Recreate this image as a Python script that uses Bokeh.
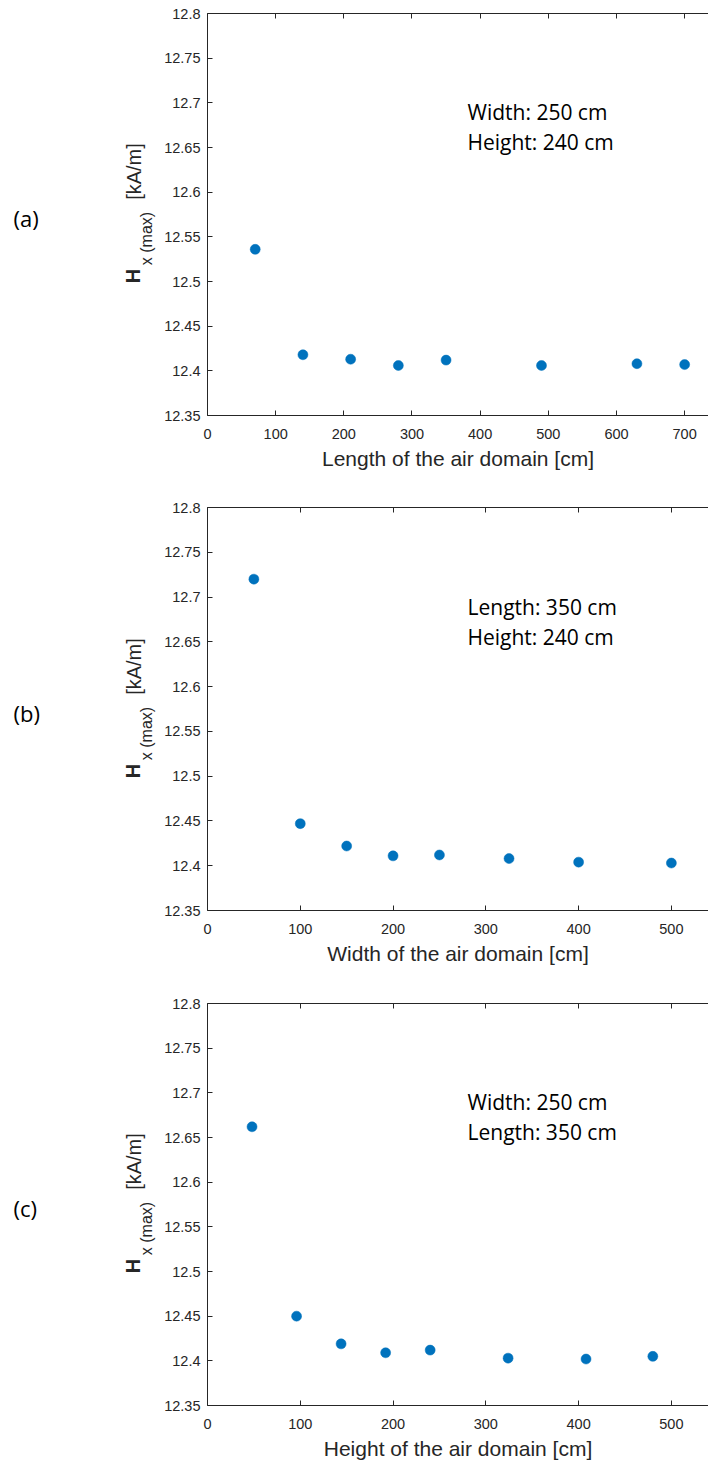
import math
from bokeh.plotting import figure
from bokeh.models import Range1d, FixedTicker, LinearAxis, CustomJSTickFormatter, Label
from bokeh.layouts import column, row
from bokeh.core.properties import value
from bokeh.embed import file_html
from bokeh.resources import INLINE

# ---- data ----
length_cm = [70, 140, 210, 280, 350, 490, 630, 700]
length_hx = [12.536, 12.418, 12.413, 12.406, 12.412, 12.406, 12.408, 12.407]

width_cm = [50, 100, 150, 200, 250, 325, 400, 500]
width_hx = [12.720, 12.447, 12.422, 12.411, 12.412, 12.408, 12.404, 12.403]

height_cm = [48, 96, 144, 192, 240, 324, 408, 480]
height_hx = [12.662, 12.450, 12.419, 12.409, 12.412, 12.403, 12.402, 12.405]

y_ticks = [12.35, 12.40, 12.45, 12.50, 12.55, 12.60, 12.65, 12.70, 12.75, 12.80]
x_ticks_a = [0, 100, 200, 300, 400, 500, 600, 700]
x_ticks_bc = [0, 100, 200, 300, 400, 500]

x_labels = ["Length of the air domain [cm]",
            "Width of the air domain [cm]",
            "Height of the air domain [cm]"]
notes = [["Width: 250 cm", "Height: 240 cm"],
         ["Length: 350 cm", "Height: 240 cm"],
         ["Width: 250 cm", "Length: 350 cm"]]
letters = ["(a)", "(b)", "(c)"]
y_label_parts = ["H", "x (max)", "[kA/m]"]

AX = "#262626"
DOT = "#0072BD"
TICK_FONT = "Liberation Sans"
NOTE_FONT = "Open Sans"

SIDE_W = 159      # width of the left strip holding letter + y label
MAIN_W = 708 - SIDE_W
BORDER_L = 207 - SIDE_W   # main figure left border (tick labels)


def side(height, top_b, bot_b, letter):
    fh = height - top_b - bot_b   # frame height in px; y measured up from frame bottom
    s = figure(width=SIDE_W, height=height, x_range=Range1d(0, SIDE_W),
               y_range=Range1d(0, fh), x_axis_type=None, y_axis_type=None,
               title=None, output_backend="svg", toolbar_location=None,
               min_border_left=0, min_border_right=0,
               min_border_top=top_b, min_border_bottom=bot_b)
    s.grid.visible = False
    s.outline_line_color = None
    s.background_fill_color = "white"
    s.border_fill_color = "white"
    rot = math.pi / 2
    s.text(x=[132.5], y=[139.5], text=[y_label_parts[0]], angle=rot,
           text_font=value(TICK_FONT), text_font_size=value("20px"),
           text_font_style=value("bold"), text_color=AX,
           text_baseline=value("middle"), text_align=value("center"))
    s.text(x=[145.5], y=[177], text=[y_label_parts[1]], angle=rot,
           text_font=value(TICK_FONT), text_font_size=value("16px"),
           text_color=AX, text_baseline=value("middle"), text_align=value("center"))
    s.text(x=[133], y=[244], text=[y_label_parts[2]], angle=rot,
           text_font=value(TICK_FONT), text_font_size=value("20px"),
           text_color=AX, text_baseline=value("middle"), text_align=value("center"))
    s.text(x=[13], y=[197.5], text=[letter],
           text_font=value(NOTE_FONT), text_font_size=value("22px"),
           text_color="black", text_baseline=value("middle"), text_align=value("left"))
    return s


def panel(xs, ys, xmax, xticks, xlabel, note, height, top_b, bot_b):
    p = figure(width=MAIN_W, height=height,
               x_range=Range1d(0, xmax), y_range=Range1d(12.35, 12.8),
               title=None, output_backend="svg", toolbar_location=None,
               min_border_left=BORDER_L, min_border_right=0,
               min_border_top=top_b, min_border_bottom=bot_b)
    p.grid.visible = False
    p.outline_line_color = None
    p.background_fill_color = "white"
    p.border_fill_color = "white"

    for ax in (p.xaxis[0], p.yaxis[0]):
        ax.major_tick_in = 5
        ax.major_tick_out = 0
        ax.minor_tick_line_color = None
        ax.axis_line_color = AX
        ax.major_tick_line_color = AX
        ax.axis_line_width = 1
        ax.major_label_text_color = AX
        ax.major_label_text_font = TICK_FONT
        ax.major_label_text_font_size = "14.5px"

    p.xaxis.ticker = FixedTicker(ticks=xticks)
    p.xaxis.major_label_standoff = 13
    p.xaxis.axis_label = xlabel
    p.xaxis.axis_label_text_font = TICK_FONT
    p.xaxis.axis_label_text_font_size = "21px"
    p.xaxis.axis_label_text_font_style = "normal"
    p.xaxis.axis_label_text_color = AX
    p.xaxis.axis_label_standoff = 5

    p.yaxis.ticker = FixedTicker(ticks=y_ticks)
    p.yaxis.major_label_standoff = 7
    p.yaxis.formatter = CustomJSTickFormatter(code="return String(Number(tick.toFixed(2)));")

    top = LinearAxis(ticker=FixedTicker(ticks=xticks),
                     major_label_text_font_size="0px", major_label_text_color=None,
                     major_label_standoff=0,
                     major_tick_in=5, major_tick_out=0,
                     minor_tick_line_color=None,
                     axis_line_color=AX, major_tick_line_color=AX)
    p.add_layout(top, "above")

    p.scatter(xs, ys, size=10, fill_color=DOT, line_color=DOT, line_width=0.5)

    p.add_layout(Label(x=260, y=304, x_units="screen", y_units="screen",
                       text=note[0], text_font=NOTE_FONT, text_font_size="21px",
                       text_color="black", text_baseline="alphabetic"))
    p.add_layout(Label(x=260, y=274, x_units="screen", y_units="screen",
                       text=note[1], text_font=NOTE_FONT, text_font_size="21px",
                       text_color="black", text_baseline="alphabetic"))
    return p


specs = [
    (length_cm, length_hx, 735, x_ticks_a, 485, 13, 70),
    (width_cm, width_hx, 540, x_ticks_bc, 495, 22, 70),
    (height_cm, height_hx, 540, x_ticks_bc, 484, 23, 59),
]

rows = []
for i, (xs, ys, xmax, xt, h, tb, bb) in enumerate(specs):
    p = panel(xs, ys, xmax, xt, x_labels[i], notes[i], h, tb, bb)
    rows.append(row(side(h, tb, bb, letters[i]), p, spacing=0))

layout = column(*rows, spacing=0)
open("out.html", "w").write(file_html(layout, INLINE))
